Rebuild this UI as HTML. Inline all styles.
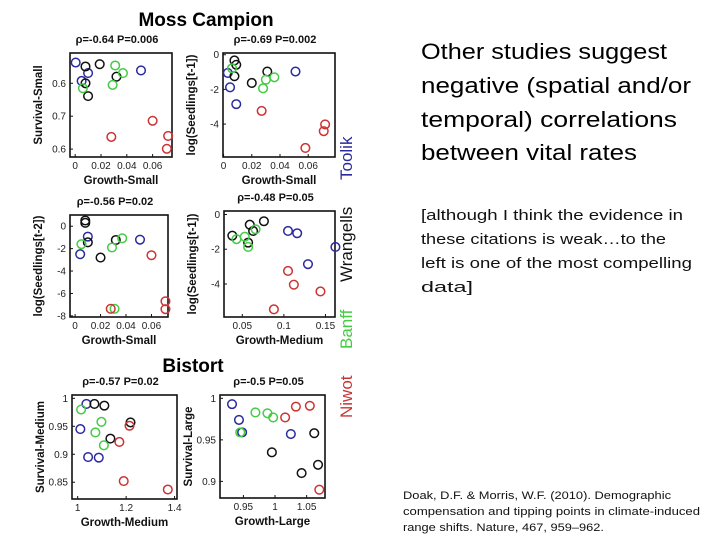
<!DOCTYPE html>
<html><head><meta charset="utf-8"><style>
html,body{margin:0;padding:0;background:#fff;}
svg{display:block;font-family:"Liberation Sans",sans-serif;}
.ax{font-size:10px;fill:#222;}
.lab{font-size:11.5px;font-weight:bold;fill:#111;}
.ttl{font-size:11px;font-weight:bold;fill:#111;}
</style></head><body>
<svg id="s" width="720" height="540" viewBox="0 0 720 540">
<text x="206" y="26" text-anchor="middle" font-size="19" font-weight="bold">Moss Campion</text>
<text x="193" y="372" text-anchor="middle" font-size="19" font-weight="bold">Bistort</text>
<text transform="translate(352,180) rotate(-90)" font-size="17" fill="#2a2a9a">Toolik</text>
<text transform="translate(352,282) rotate(-90)" font-size="17" fill="#111">Wrangells</text>
<text transform="translate(352,349) rotate(-90)" font-size="17" fill="#44cc44">Banff</text>
<text transform="translate(352,418) rotate(-90)" font-size="17" fill="#cc3333">Niwot</text>
<g font-family="Liberation Sans, sans-serif" font-size="22" fill="#000">
<text x="421" y="59" textLength="246" lengthAdjust="spacingAndGlyphs">Other studies suggest</text>
<text x="421" y="93" textLength="270" lengthAdjust="spacingAndGlyphs">negative (spatial and/or</text>
<text x="421" y="127" textLength="256" lengthAdjust="spacingAndGlyphs">temporal) correlations</text>
<text x="421" y="160" textLength="216" lengthAdjust="spacingAndGlyphs">between vital rates</text>
</g>
<g font-size="15" fill="#111">
<text x="421" y="220" textLength="262" lengthAdjust="spacingAndGlyphs">[although I think the evidence in</text>
<text x="421" y="244" textLength="245" lengthAdjust="spacingAndGlyphs">these citations is weak…to the</text>
<text x="421" y="268" textLength="271" lengthAdjust="spacingAndGlyphs">left is one of the most compelling</text>
<text x="421" y="292" textLength="52" lengthAdjust="spacingAndGlyphs">data]</text>
</g>
<g font-size="11" fill="#111">
<text x="403" y="499" textLength="268" lengthAdjust="spacingAndGlyphs">Doak, D.F. &amp; Morris, W.F. (2010). Demographic</text>
<text x="403" y="515" textLength="297" lengthAdjust="spacingAndGlyphs">compensation and tipping points in climate-induced</text>
<text x="403" y="531" textLength="201" lengthAdjust="spacingAndGlyphs">range shifts. Nature, 467, 959–962.</text>
</g>
<g id="plots"></g>
</svg>
<script>
// Panel 1: Growth-Small vs Survival-Small
const p1Blue=[[0.0004,0.863],[0.010,0.831],[0.005,0.807],[0.051,0.839]];
const p1Black=[[0.008,0.851],[0.019,0.858],[0.008,0.80],[0.010,0.761],[0.032,0.820]];
const p1Green=[[0.031,0.854],[0.037,0.831],[0.029,0.795],[0.006,0.785]];
const p1Red=[[0.028,0.637],[0.060,0.686],[0.072,0.640],[0.071,0.601]];
const p1XTicks=[0,0.02,0.04,0.06];const p1XLabels=["0","0.02","0.04","0.06"];
const p1YTicks=[0.6,0.7,0.8];const p1YLabels=["0.6","0.7","0.6"];
// Panel 2
const p2Blue=[[0.003,-1.05],[0.0046,-1.88],[0.009,-2.85],[0.051,-0.97]];
const p2Black=[[0.0077,-0.33],[0.009,-0.58],[0.0077,-1.24],[0.031,-0.97],[0.020,-1.63]];
const p2Green=[[0.006,-0.78],[0.030,-1.44],[0.036,-1.30],[0.028,-1.94]];
const p2Red=[[0.027,-3.24],[0.072,-4.02],[0.071,-4.41],[0.058,-5.38]];
const p2XTicks=[0,0.02,0.04,0.06];const p2XLabels=["0","0.02","0.04","0.06"];
const p2YTicks=[0,-2,-4];const p2YLabels=["0","-2","-4"];
// Panel 3
const p3Blue=[[0.004,-2.5],[0.010,-0.93],[0.051,-1.2]];
const p3Black=[[0.008,0.51],[0.008,0.30],[0.010,-1.44],[0.020,-2.80],[0.032,-1.23]];
const p3Green=[[0.005,-1.6],[0.029,-1.9],[0.037,-1.08],[0.031,-7.37]];
const p3Red=[[0.028,-7.37],[0.060,-2.59],[0.071,-6.7],[0.071,-7.4]];
const p3XTicks=[0,0.02,0.04,0.06];const p3XLabels=["0","0.02","0.04","0.06"];
const p3YTicks=[0,-2,-4,-6,-8];const p3YLabels=["0","-2","-4","-6","-8"];
// Panel 4
const p4Black=[[0.038,-1.22],[0.059,-0.59],[0.063,-0.95],[0.076,-0.39],[0.057,-1.62]];
const p4Green=[[0.043,-1.42],[0.053,-1.28],[0.066,-0.85],[0.057,-1.87]];
const p4Blue=[[0.105,-0.95],[0.116,-1.08],[0.162,-1.87],[0.129,-2.86]];
const p4Red=[[0.105,-3.25],[0.112,-4.04],[0.144,-4.43],[0.088,-5.46]];
const p4XTicks=[0.05,0.1,0.15];const p4XLabels=["0.05","0.1","0.15"];
const p4YTicks=[0,-2,-4];const p4YLabels=["0","-2","-4"];
// Panel 5
const p5Blue=[[1.036,0.990],[1.011,0.945],[1.043,0.895],[1.087,0.894]];
const p5Black=[[1.069,0.990],[1.110,0.987],[1.218,0.957],[1.135,0.928]];
const p5Green=[[1.014,0.980],[1.098,0.958],[1.073,0.939],[1.108,0.916]];
const p5Red=[[1.214,0.951],[1.172,0.922],[1.19,0.852],[1.372,0.837]];
const p5XTicks=[1,1.2,1.4];const p5XLabels=["1","1.2","1.4"];
const p5YTicks=[1,0.95,0.9,0.85];const p5YLabels=["1","0.95","0.9","0.85"];
// Panel 6
const p6Blue=[[0.932,0.993],[0.943,0.974],[0.948,0.959],[1.025,0.957]];
const p6Green=[[0.945,0.959],[0.969,0.983],[0.988,0.982],[0.997,0.977]];
const p6Red=[[1.016,0.977],[1.033,0.990],[1.055,0.991],[1.07,0.89]];
const p6Black=[[0.995,0.935],[1.062,0.958],[1.042,0.91],[1.068,0.92]];
const p6XTicks=[0.95,1,1.05];const p6XLabels=["0.95","1","1.05"];
const p6YTicks=[1,0.95,0.9];const p6YLabels=["1","0.95","0.9"];

const NS="http://www.w3.org/2000/svg";
const root=document.getElementById('plots');
function mk(tag,at,parent){const e=document.createElementNS(NS,tag);for(const k in at)e.setAttribute(k,at[k]);(parent||root).appendChild(e);return e;}
const COLORS={blue:"#2a2aa0",black:"#111",green:"#44cc44",red:"#cc3333"};

function panel(id,box,xd,yd,series,xt,xl,yt,yl,title,xlab,ylab){
  const g=mk('g',{});
  
  
  const [L,T,R,B]=box;
  const sx=v=>L+(v-xd[0])/(xd[1]-xd[0])*(R-L);
  const sy=v=>B-(v-yd[0])/(yd[1]-yd[0])*(B-T);
  const fr=mk('rect',{x:L,y:T,width:R-L,height:B-T,fill:'none',stroke:'#111','stroke-width':1.6},g);
  
  
  xt.forEach((v,i)=>{
    mk('line',{x1:sx(v),x2:sx(v),y1:B,y2:B-3,stroke:'#111'},g);
    const t=mk('text',{x:sx(v),y:B+12,'text-anchor':'middle',class:'ax'},g);t.textContent=xl[i];
    
    
  });
  yt.forEach((v,i)=>{
    mk('line',{x1:L,x2:L+3,y1:sy(v),y2:sy(v),stroke:'#111'},g);
    const t=mk('text',{x:L-4,y:sy(v)+3.5,'text-anchor':'end',class:'ax'},g);t.textContent=yl[i];
    
    
  });
  const tt=mk('text',{x:(L+R)/2-4,y:T-10,'text-anchor':'middle',class:'ttl'},g);tt.textContent=title;
  
  
  const xa=mk('text',{x:(L+R)/2,y:B+27,'text-anchor':'middle',class:'lab'},g);xa.textContent=xlab;
  
  
  const ya=mk('text',{transform:`translate(${L-28},${(T+B)/2}) rotate(-90)`,'text-anchor':'middle',class:'lab'},g);ya.textContent=ylab;
  
  
  series.forEach(([col,pts])=>{
    pts.forEach(p=>{
      const c=mk('circle',{cx:sx(p[0]),cy:sy(p[1]),r:4.3,fill:'none',stroke:COLORS[col],'stroke-width':1.5},g);
      
      
    });
  });
}
panel('panel-survival-small',[70,53,172,157],[-0.004,0.075],[0.576,0.892],
 [['blue',p1Blue],['black',p1Black],['green',p1Green],['red',p1Red]],p1XTicks,p1XLabels,p1YTicks,p1YLabels,
 'ρ=-0.64 P=0.006','Growth-Small','Survival-Small');
panel('panel-seedlings-t1-small',[223,53,335,157],[-0.0004,0.079],[-5.9,0.1],
 [['blue',p2Blue],['black',p2Black],['green',p2Green],['red',p2Red]],p2XTicks,p2XLabels,p2YTicks,p2YLabels,
 'ρ=-0.69 P=0.002','Growth-Small','log(Seedlings[t-1])');
panel('panel-seedlings-t2-small',[70,215,168,317],[-0.004,0.073],[-8.1,1.0],
 [['blue',p3Blue],['black',p3Black],['green',p3Green],['red',p3Red]],p3XTicks,p3XLabels,p3YTicks,p3YLabels,
 'ρ=-0.56 P=0.02','Growth-Small','log(Seedlings[t-2])');
panel('panel-seedlings-t1-medium',[224,211,335,317],[0.028,0.1615],[-5.9,0.2],
 [['blue',p4Blue],['black',p4Black],['green',p4Green],['red',p4Red]],p4XTicks,p4XLabels,p4YTicks,p4YLabels,
 'ρ=-0.48 P=0.05','Growth-Medium','log(Seedlings[t-1])');
panel('panel-survival-medium',[72,395,177,499],[0.9765,1.41],[0.82,1.006],
 [['blue',p5Blue],['black',p5Black],['green',p5Green],['red',p5Red]],p5XTicks,p5XLabels,p5YTicks,p5YLabels,
 'ρ=-0.57 P=0.02','Growth-Medium','Survival-Medium');
panel('panel-survival-large',[220,395,325,498],[0.913,1.079],[0.88,1.004],
 [['blue',p6Blue],['black',p6Black],['green',p6Green],['red',p6Red]],p6XTicks,p6XLabels,p6YTicks,p6YLabels,
 'ρ=-0.5 P=0.05','Growth-Large','Survival-Large');
</script>
</body></html>
